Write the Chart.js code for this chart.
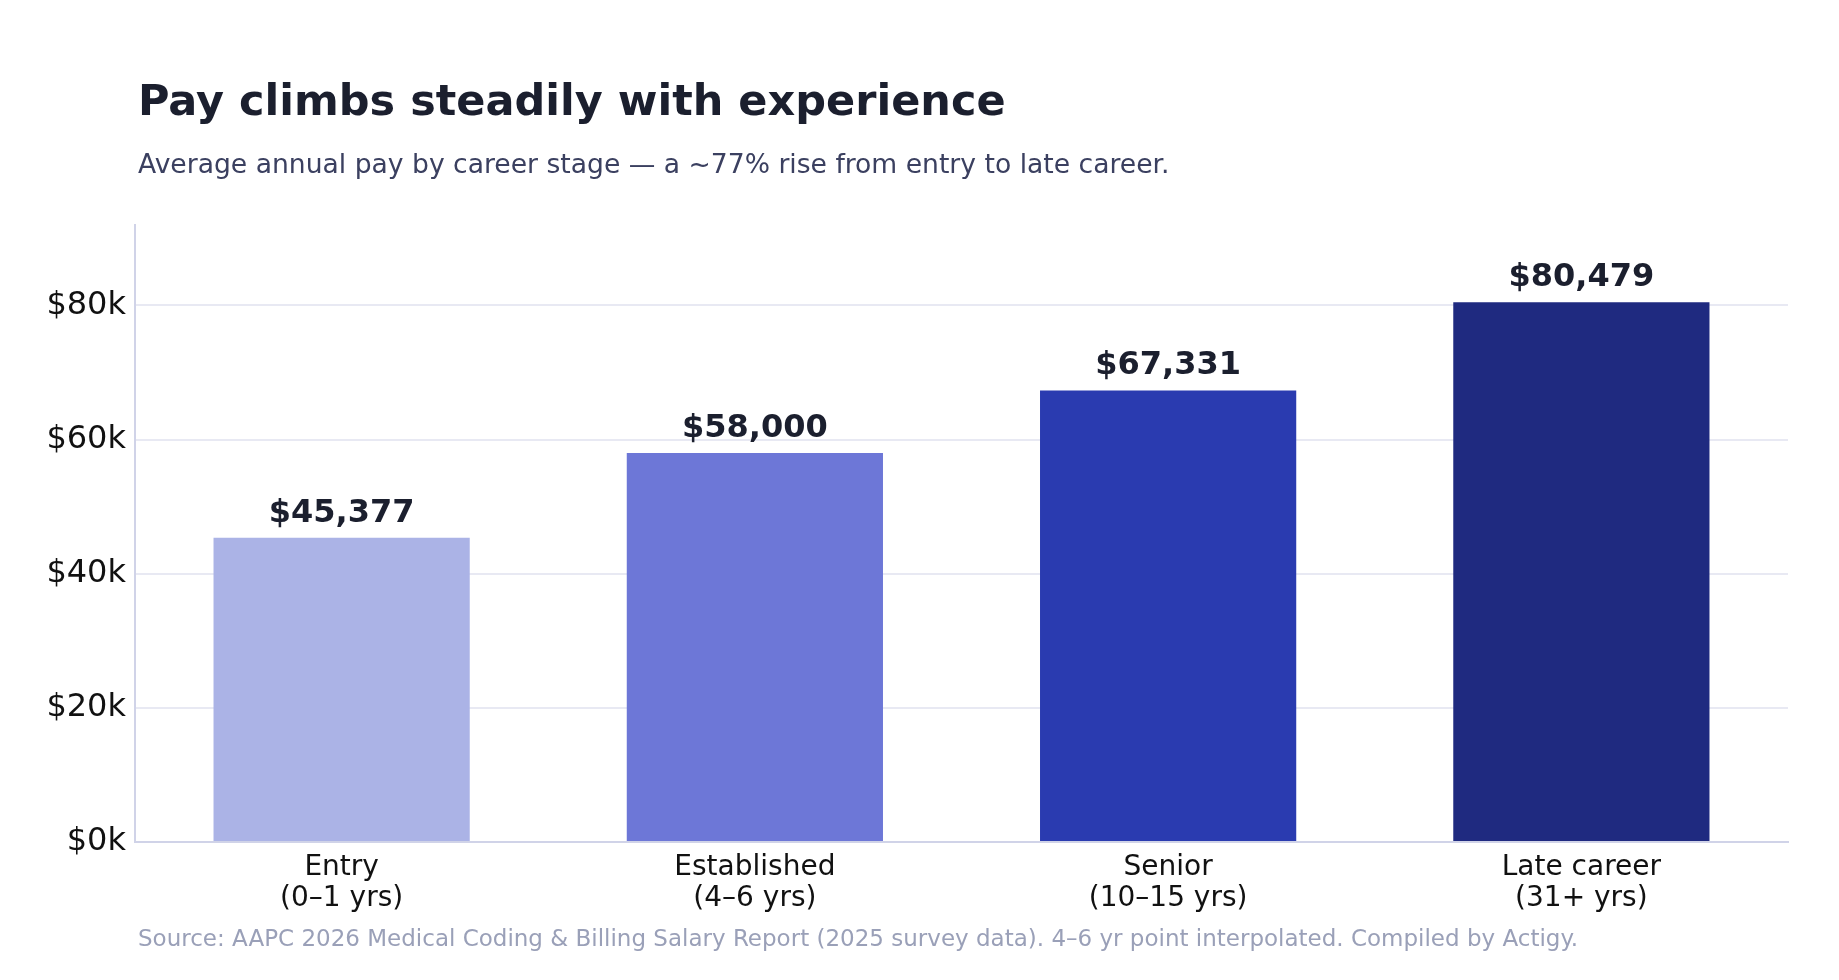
<!DOCTYPE html>
<html>
<head>
<meta charset="utf-8">
<script src="https://cdn.jsdelivr.net/npm/chart.js@4/dist/chart.umd.min.js"></script>
<style>
  html, body { margin: 0; padding: 0; background: #fff; }
  body { width: 1839px; height: 980px; position: relative; overflow: hidden; font-family: "DejaVu Sans", sans-serif; }
  #wrap { position: absolute; left: 0; top: 0; width: 1839px; height: 980px; }
  .txt { position: absolute; left: 138px; white-space: nowrap; }
  #title { top: 79px; font-size: 43px; line-height: 43px; font-weight: bold; color: #1b1f2e; }
  #subtitle { top: 150px; font-size: 26.6px; line-height: 28px; color: #3b4060; }
  #source { top: 926px; font-size: 23px; line-height: 24px; color: #9aa0b8; }
</style>
</head>
<body>
<div id="wrap"><canvas id="chart"></canvas></div>
<div class="txt" id="title">Pay climbs steadily with experience</div>
<div class="txt" id="subtitle">Average annual pay by career stage — a ~77% rise from entry to late career.</div>
<div class="txt" id="source">Source: AAPC 2026 Medical Coding &amp; Billing Salary Report (2025 survey data). 4–6 yr point interpolated. Compiled by Actigy.</div>
<script>
// ======== Dados ========
const categories = [
  ['Entry', '(0–1 yrs)'],
  ['Established', '(4–6 yrs)'],
  ['Senior', '(10–15 yrs)'],
  ['Late career', '(31+ yrs)'],
];
const avgPay = [45377, 58000, 67331, 80479];
const barColors = ['#abb3e6', '#6d77d7', '#2a3bb0', '#1f2a80'];
const yTicks = [0, 20000, 40000, 60000, 80000];

// rótulos em cima das barras
const barLabels = {
  id: 'barLabels',
  afterDatasetsDraw(chart) {
    const ctx = chart.ctx;
    const meta = chart.getDatasetMeta(0);
    ctx.save();
    ctx.font = 'bold 32px "DejaVu Sans"';
    ctx.fillStyle = '#1b1f2e';
    ctx.textAlign = 'center';
    ctx.textBaseline = 'alphabetic';
    meta.data.forEach((bar, i) => {
      ctx.fillText('$' + avgPay[i].toLocaleString('en-US'), bar.x, bar.y - 16);
    });
    ctx.restore();
  }
};

const ctx = document.getElementById('chart').getContext('2d');
const chart = new Chart(ctx, {
  type: 'bar',
  data: {
    labels: categories,
    datasets: [{
      data: avgPay,
      backgroundColor: barColors,
      barPercentage: 0.62,
      categoryPercentage: 1,
    }],
  },
  options: {
    responsive: true,
    maintainAspectRatio: false,
    animation: false,
    layout: { padding: { left: 0, right: 51, top: 225, bottom: 0 } },
    plugins: { legend: { display: false }, tooltip: { enabled: false } },
    scales: {
      x: {
        grid: { display: false },
        border: { color: '#d0d3e8', width: 2 },
        ticks: {
          color: '#111',
          padding: 2,
          font: { family: 'DejaVu Sans', size: 28, lineHeight: 1.12 },
          maxRotation: 0,
        },
        afterFit(scale) { scale.height = 980 - 842; },
      },
      y: {
        min: 0,
        max: 92000,
        grid: { color: '#e8e9f3', lineWidth: 2, drawTicks: false },
        border: { color: '#d0d3e8', width: 2 },
        ticks: {
          stepSize: 20000,
          color: '#111',
          padding: 9,
          font: { family: 'DejaVu Sans', size: 32 },
          callback: v => '$' + (v / 1000) + 'k',
        },
        afterBuildTicks(scale) {
          scale.ticks = yTicks.map(v => ({ value: v }));
        },
        afterFit(scale) { scale.width = 135; },
      },
    },
  },
  plugins: [barLabels],
});
</script>
</body>
</html>
